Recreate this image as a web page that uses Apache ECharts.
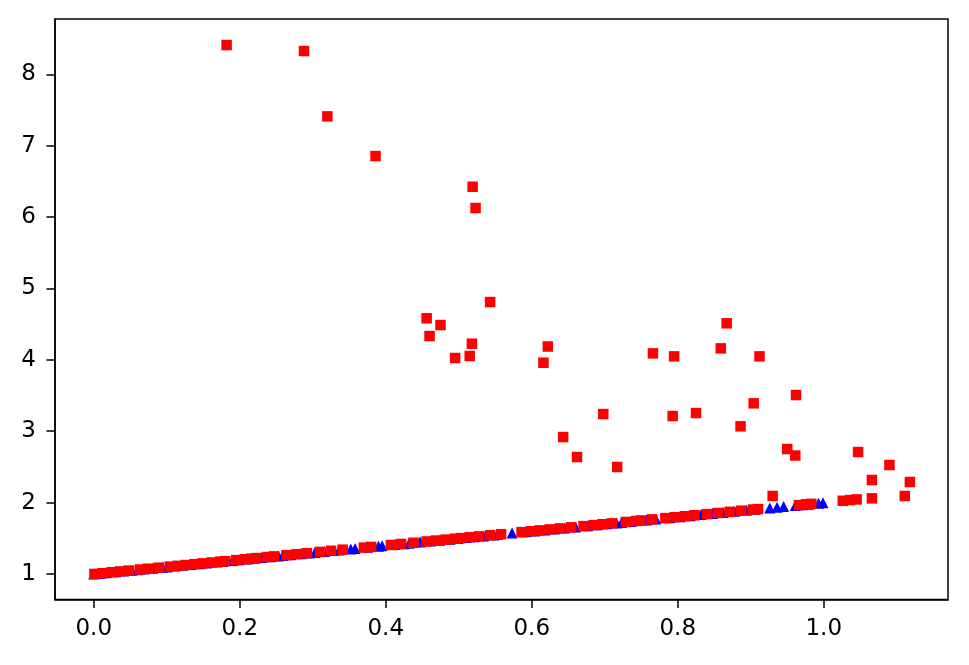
<!DOCTYPE html>
<html>
<head>
<meta charset="utf-8">
<script src="https://cdn.jsdelivr.net/npm/echarts@6/dist/echarts.min.js"></script>
<style>
html,body{margin:0;padding:0;background:#fff;}
#chart{width:969px;height:665px;}
</style>
</head>
<body>
<div id="chart"></div>
<script>
// ---- data ----
const blueX = [0.000,0.008,0.017,0.030,0.041,0.052,0.060,0.069,0.081,0.094,0.100,0.111,0.122,0.133,0.145,0.155,0.168,0.177,0.190,0.199,0.211,0.220,0.230,0.242,0.253,0.259,0.270,0.284,0.295,0.303,0.316,0.328,0.336,0.352,0.358,0.375,0.390,0.395,0.412,0.425,0.432,0.447,0.461,0.474,0.488,0.499,0.510,0.521,0.534,0.548,0.553,0.573,0.592,0.604,0.618,0.631,0.645,0.660,0.677,0.690,0.703,0.716,0.723,0.736,0.757,0.770,0.789,0.803,0.817,0.832,0.848,0.862,0.878,0.894,0.906,0.926,0.936,0.945,0.961,0.971,0.979,0.993,0.999];
const blueY = [1.000,1.008,1.017,1.030,1.041,1.052,1.060,1.069,1.081,1.094,1.100,1.111,1.122,1.133,1.145,1.155,1.168,1.177,1.190,1.199,1.211,1.220,1.230,1.242,1.253,1.259,1.270,1.284,1.295,1.303,1.316,1.328,1.336,1.352,1.358,1.375,1.390,1.395,1.412,1.425,1.432,1.447,1.461,1.474,1.488,1.499,1.510,1.521,1.534,1.548,1.553,1.573,1.592,1.604,1.618,1.631,1.645,1.660,1.677,1.690,1.703,1.716,1.723,1.736,1.757,1.770,1.789,1.803,1.817,1.832,1.848,1.862,1.878,1.894,1.906,1.926,1.936,1.945,1.961,1.971,1.979,1.993,1.999];

const redLineX = [0.001,0.012,0.025,0.036,0.048,0.063,0.074,0.089,0.104,0.115,0.126,0.138,0.149,0.162,0.173,0.180,0.195,0.207,0.216,0.223,0.238,0.247,0.264,0.278,0.292,0.310,0.325,0.341,0.370,0.380,0.407,0.421,0.438,0.456,0.469,0.482,0.495,0.503,0.515,0.528,0.543,0.558,0.586,0.599,0.611,0.625,0.639,0.654,0.671,0.685,0.697,0.710,0.729,0.743,0.750,0.765,0.783,0.796,0.810,0.823,0.840,0.855,0.871,0.887,0.903,0.910,0.966,0.976,0.983,1.026,1.036,1.045,1.066];
const redLineY = [1.001,1.012,1.025,1.036,1.048,1.063,1.074,1.089,1.104,1.115,1.126,1.138,1.149,1.162,1.173,1.180,1.195,1.207,1.216,1.223,1.238,1.247,1.264,1.278,1.292,1.310,1.325,1.341,1.370,1.380,1.407,1.421,1.438,1.456,1.469,1.482,1.495,1.503,1.515,1.528,1.543,1.558,1.586,1.599,1.611,1.625,1.639,1.654,1.671,1.685,1.697,1.710,1.729,1.743,1.750,1.765,1.783,1.796,1.810,1.823,1.840,1.855,1.871,1.887,1.903,1.910,1.966,1.976,1.983,2.026,2.036,2.045,2.060];

const redOutX = [0.182,0.288,0.320,0.386,0.519,0.523,0.543,0.456,0.475,0.460,0.518,0.495,0.515,0.622,0.616,0.766,0.795,0.859,0.867,0.912,0.962,0.698,0.793,0.825,0.904,0.886,0.643,0.662,0.717,0.950,0.961,1.047,1.090,1.066,1.118,0.930,1.111];
const redOutY = [8.410,8.326,7.411,6.855,6.425,6.127,4.810,4.582,4.488,4.334,4.226,4.026,4.054,4.187,3.960,4.091,4.049,4.161,4.512,4.049,3.507,3.241,3.213,3.255,3.391,3.069,2.919,2.639,2.499,2.751,2.660,2.709,2.527,2.317,2.289,2.093,2.093];

const xTicks = [0.0,0.2,0.4,0.6,0.8,1.0];
const yTicks = [1,2,3,4,5,6,7,8];

// ---- build ----
const zip = (a,b) => a.map((v,i) => [v,b[i]]);
const blueData = zip(blueX, blueY);
const redData = zip(redLineX, redLineY).concat(zip(redOutX, redOutY));

const font = 'DejaVu Sans';
const chart = echarts.init(document.getElementById('chart'), null, {renderer:'canvas'});
chart.setOption({
  animation: false,
  backgroundColor: '#ffffff',
  grid: {left: 55, right: 21, top: 19, bottom: 65.5, show: true, borderColor: '#000', borderWidth: 1.5, backgroundColor: 'transparent'},
  xAxis: {
    type: 'value', min: -0.0531, max: 1.1702,
    axisLine: {show: true, onZero: false, lineStyle: {color: '#000', width: 1.5}},
    splitLine: {show: false},
    axisTick: {show: true, inside: false, length: 8.5, lineStyle: {color: '#000', width: 1.5}, customValues: xTicks},
    axisLabel: {show: true, margin: 18, color: '#000', fontFamily: font, fontSize: 23,
      customValues: xTicks, formatter: v => Number(v).toFixed(1)}
  },
  yAxis: {
    type: 'value', min: 0.643, max: 8.775,
    axisLine: {show: true, onZero: false, lineStyle: {color: '#000', width: 1.5}},
    splitLine: {show: false},
    axisTick: {show: true, inside: false, length: 8.5, lineStyle: {color: '#000', width: 1.5}, customValues: yTicks},
    axisLabel: {show: true, margin: 19, color: '#000', fontFamily: font, fontSize: 23,
      customValues: yTicks, formatter: v => String(Math.round(v))}
  },
  series: [
    {type: 'scatter', data: blueData, symbol: 'triangle', symbolSize: 11,
      itemStyle: {color: '#0000ff', opacity: 1}},
    {type: 'scatter', data: redData, symbol: 'rect', symbolSize: 10.5,
      itemStyle: {color: '#ff0000', opacity: 1}}
  ]
});
</script>
</body>
</html>
